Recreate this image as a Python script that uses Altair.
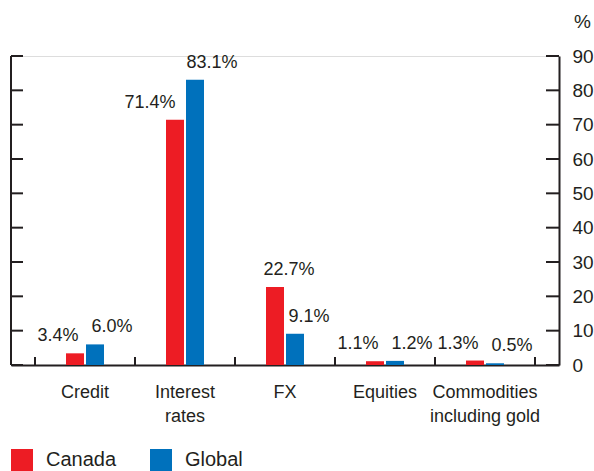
import altair as alt
import pandas as pd

categories = ["Credit", "Interest\nrates", "FX", "Equities", "Commodities\nincluding gold"]
series = ["Canada", "Global"]
canada = [3.4, 71.4, 22.7, 1.1, 1.3]
global_ = [6.0, 83.1, 9.1, 1.2, 0.5]
y_ticks = [0, 10, 20, 30, 40, 50, 60, 70, 80, 90]
colors = ["#ED1C24", "#0071BC"]

rows = []
for c, v in zip(categories, canada):
    rows.append({"category": c, "series": "Canada", "value": v})
for c, v in zip(categories, global_):
    rows.append({"category": c, "series": "Global", "value": v})
df = pd.DataFrame(rows)
df["label"] = df["value"].map(lambda v: f"{v:.1f}%")

ink = "#231f20"
FONT = "Liberation Sans"
W, H = 548, 309

x_scale = alt.Scale(paddingOuter=0.24, paddingInner=0)
x_axis = alt.Axis(title=None, ticks=False, domain=True, domainColor=ink, domainWidth=2,
                  labelExpr="split(datum.label, '\\n')", labelFontSize=18, labelColor=ink,
                  labelFont=FONT, labelPadding=18, labelLineHeight=24, labelAngle=0)
y_scale = alt.Scale(domain=[0, 90], nice=False)
y_axis = alt.Axis(orient="right", title="%", values=y_ticks, ticks=False, grid=False,
                  domain=True, domainColor=ink, domainWidth=2,
                  labelFontSize=19, labelColor=ink, labelFont=FONT, labelPadding=13,
                  labelAlign="left", labelBaseline="middle",
                  titleAngle=0, titleX=23, titleY=-35, titleAlign="center",
                  titleBaseline="middle", titleFontSize=19, titleFontWeight="normal",
                  titleColor=ink, titleFont=FONT)
xo = alt.XOffset("series:N", sort=series,
                 scale=alt.Scale(range=[31, 69], paddingInner=0.1, paddingOuter=0))

X = alt.X("category:N", sort=categories, scale=x_scale, axis=x_axis)
Y = alt.Y("value:Q", scale=y_scale, axis=y_axis)

base = alt.Chart(df)

bars = base.mark_bar().encode(
    x=X, xOffset=xo, y=Y,
    color=alt.Color("series:N", sort=series,
                    scale=alt.Scale(domain=series, range=colors),
                    legend=alt.Legend(title=None, orient="none", legendX=0, legendY=393,
                                      direction="horizontal", columns=2,
                                      symbolType="square", symbolSize=484,
                                      symbolStrokeWidth=0, labelFontSize=20,
                                      labelFont=FONT, labelColor=ink, labelOffset=13,
                                      columnPadding=33, padding=0)),
)

def text_layer(ser, cats, dx):
    return base.transform_filter(
        alt.FieldEqualPredicate(field="series", equal=ser)
    ).transform_filter(
        alt.FieldOneOfPredicate(field="category", oneOf=cats)
    ).mark_text(dx=dx, dy=-17, fontSize=18, font=FONT, color=ink, baseline="middle").encode(
        x=X, xOffset=xo, y=Y, text="label:N"
    )

c_default = [c for c in categories if c not in ("FX", "Interest\nrates")]
g_default = [c for c in categories if c != "FX"]
texts = [
    text_layer("Canada", c_default, -17),
    text_layer("Canada", ["Interest\nrates"], -25),
    text_layer("Canada", ["FX"], 14),
    text_layer("Global", g_default, 17),
    text_layer("Global", ["FX"], 14),
]

tick_df = pd.DataFrame({"tick": y_ticks})
left_ticks = alt.Chart(tick_df).mark_rule(color=ink, strokeWidth=2).encode(
    y=alt.Y("tick:Q", scale=y_scale, axis=y_axis), x=alt.value(0), x2=alt.value(12))
right_ticks = alt.Chart(tick_df).mark_rule(color=ink, strokeWidth=2).encode(
    y=alt.Y("tick:Q", scale=y_scale, axis=y_axis), x=alt.value(W - 13), x2=alt.value(W))
left_line = alt.Chart(tick_df).mark_rule(color=ink, strokeWidth=2).encode(
    x=alt.value(0), y=alt.value(0), y2=alt.value(H))

cat_df = pd.DataFrame({"category": categories})
xt_start = alt.Chart(cat_df).mark_rule(color=ink, strokeWidth=2).encode(
    x=alt.X("category:N", sort=categories, scale=x_scale, axis=x_axis, bandPosition=0),
    y=alt.value(H - 8), y2=alt.value(H))
xt_end = alt.Chart(cat_df).transform_filter(
    alt.FieldEqualPredicate(field="category", equal=categories[-1])
).mark_rule(color=ink, strokeWidth=2).encode(
    x=alt.X("category:N", sort=categories, scale=x_scale, axis=x_axis, bandPosition=1),
    y=alt.value(H - 8), y2=alt.value(H))

chart = alt.layer(bars, *texts, left_ticks, right_ticks, left_line, xt_start, xt_end).properties(
    width=W, height=H,
    autosize=alt.AutoSizeParams(type="none"),
    padding={"left": 11, "top": 56, "right": 35, "bottom": 106},
).configure_view(stroke=None).configure(background="white")

chart.save("out.html", embed_options={"renderer": "svg", "actions": False})
